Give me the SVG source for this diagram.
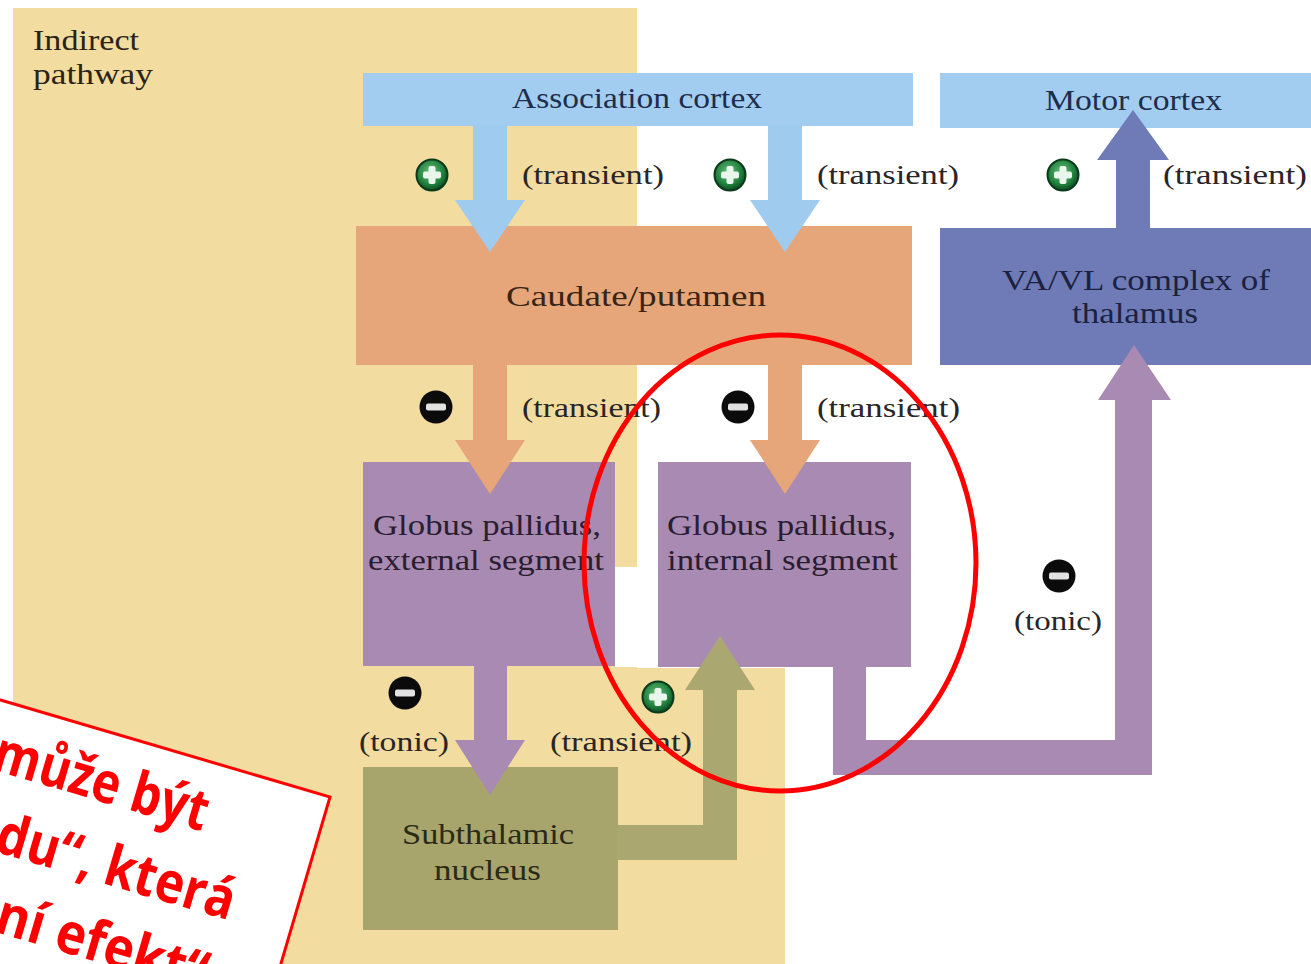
<svg xmlns="http://www.w3.org/2000/svg" width="1311" height="964" viewBox="0 0 1311 964">
<defs>
<style>
.lbl{font-family:"Liberation Serif","Times New Roman",serif;font-size:28px;fill:#2a2526}
.nm{font-family:"Liberation Serif","Times New Roman",serif;font-size:29px}
.cz{font-family:"Open Sans","Noto Sans",sans-serif;font-weight:bold;font-size:57px;fill:#ff0000}
</style>
<radialGradient id="gg" cx="0.45" cy="0.4" r="0.6">
<stop offset="0" stop-color="#6cc07e"/>
<stop offset="0.7" stop-color="#1f7f3c"/>
<stop offset="1" stop-color="#0d4a22"/>
</radialGradient>
<g id="plus">
<circle r="15.5" fill="url(#gg)" stroke="#0b3a1b" stroke-width="2"/>
<rect x="-3.5" y="-9" width="7" height="18" rx="2" fill="#e9f6ec"/>
<rect x="-9" y="-3.5" width="18" height="7" rx="2" fill="#e9f6ec"/>
</g>
<g id="minus">
<circle r="16.5" fill="#0b0b0b"/>
<rect x="-10" y="-3.5" width="20" height="7" rx="2" fill="#e2e2e2"/>
</g>
</defs>
<rect width="1311" height="964" fill="#ffffff"/>
<g id="background">
<rect x="13" y="8" width="624" height="956" fill="#f2dc9f"/>
<rect x="630" y="668" width="155" height="296" fill="#f2dc9f"/>
<rect x="615" y="567" width="43" height="100" fill="#ffffff"/>
</g>
<g id="association-cortex">
<rect x="363" y="73" width="550" height="53" fill="#a2cdf0"/>
<text class="nm" x="512" y="108" textLength="250" lengthAdjust="spacingAndGlyphs" fill="#1e2d4c">Association cortex</text>
</g>
<g id="motor-cortex">
<rect x="940" y="73" width="371" height="55" fill="#a2cdf0"/>
</g>
<g id="caudate-putamen">
<rect x="356" y="226" width="556" height="139" fill="#e6a679"/>
<text class="nm" x="506" y="306" textLength="260" lengthAdjust="spacingAndGlyphs" fill="#3a2416">Caudate/putamen</text>
</g>
<g id="thalamus">
<rect x="940" y="228" width="371" height="137" fill="#6e7bb6"/>
<text class="nm" x="1002" y="290" textLength="268" lengthAdjust="spacingAndGlyphs" fill="#1c2140">VA/VL complex of</text>
<text class="nm" x="1072" y="323" textLength="126" lengthAdjust="spacingAndGlyphs" fill="#1c2140">thalamus</text>
</g>
<g id="gpe">
<rect x="363" y="462" width="252" height="204" fill="#a98ab2"/>
<text class="nm" x="373" y="535" textLength="228" lengthAdjust="spacingAndGlyphs" fill="#2a1d30">Globus pallidus,</text>
<text class="nm" x="368" y="570" textLength="236" lengthAdjust="spacingAndGlyphs" fill="#2a1d30">external segment</text>
</g>
<g id="gpi">
<rect x="658" y="462" width="253" height="205" fill="#a98ab2"/>
<text class="nm" x="667" y="535" textLength="229" lengthAdjust="spacingAndGlyphs" fill="#2a1d30">Globus pallidus,</text>
<text class="nm" x="667" y="570" textLength="231" lengthAdjust="spacingAndGlyphs" fill="#2a1d30">internal segment</text>
</g>
<g id="stn">
<rect x="363" y="767" width="255" height="163" fill="#a7a56c"/>
<text class="nm" x="402" y="844" textLength="172" lengthAdjust="spacingAndGlyphs" fill="#2b2a18">Subthalamic</text>
<text class="nm" x="434" y="880" textLength="107" lengthAdjust="spacingAndGlyphs" fill="#2b2a18">nucleus</text>
</g>
<g id="connectors">
<polygon points="473,125 507,125 507,200 525,200 490,252 455,200 473,200" fill="#9fcbef"/>
<polygon points="768,125 802,125 802,200 820,200 785,252 750,200 768,200" fill="#9fcbef"/>
<polygon points="473,364 507,364 507,440 525,440 490,494 455,440 473,440" fill="#e6a679"/>
<polygon points="768,364 802,364 802,440 820,440 785,494 750,440 768,440" fill="#e6a679"/>
<polygon points="474,665 507,665 507,740 525,740 490,795 455,740 474,740" fill="#a98ab2"/>
<polygon points="617,825 703,825 703,690 685,690 720,636 755,690 737,690 737,860 617,860" fill="#aaa870"/>
<polygon points="833,666 866,666 866,740 1115,740 1115,400 1098,400 1134,345 1171,400 1152,400 1152,775 833,775" fill="#a98ab2"/>
<polygon points="1116,228 1116,160 1097,160 1133,110 1169,160 1150,160 1150,228" fill="#6e7bb6"/>
</g>
<g id="labels">
<text class="nm" x="33" y="50" textLength="106" lengthAdjust="spacingAndGlyphs" fill="#2a2418">Indirect</text>
<text class="nm" x="33" y="84" textLength="120" lengthAdjust="spacingAndGlyphs" fill="#2a2418">pathway</text>
<text class="nm" x="1045" y="110" textLength="177" lengthAdjust="spacingAndGlyphs" fill="#1e2d4c">Motor cortex</text>
<text class="lbl" x="522" y="184" textLength="142" lengthAdjust="spacingAndGlyphs">(transient)</text>
<text class="lbl" x="817" y="184" textLength="142" lengthAdjust="spacingAndGlyphs">(transient)</text>
<text class="lbl" x="1163" y="184" textLength="144" lengthAdjust="spacingAndGlyphs">(transient)</text>
<text class="lbl" x="522" y="417" textLength="139" lengthAdjust="spacingAndGlyphs">(transient)</text>
<text class="lbl" x="817" y="417" textLength="143" lengthAdjust="spacingAndGlyphs">(transient)</text>
<text class="lbl" x="550" y="751" textLength="142" lengthAdjust="spacingAndGlyphs">(transient)</text>
<text class="lbl" x="359" y="751" textLength="90" lengthAdjust="spacingAndGlyphs">(tonic)</text>
<text class="lbl" x="1014" y="630" textLength="88" lengthAdjust="spacingAndGlyphs">(tonic)</text>
</g>
<g id="signs">
<use href="#plus" x="432" y="175"/>
<use href="#plus" x="730" y="175"/>
<use href="#plus" x="1063" y="175"/>
<use href="#plus" x="658" y="697"/>
<use href="#minus" x="436" y="407"/>
<use href="#minus" x="738" y="407"/>
<use href="#minus" x="405" y="693"/>
<use href="#minus" x="1059" y="576"/>
</g>
<g id="highlight">
<ellipse cx="780" cy="563" rx="196" ry="228" fill="none" stroke="#ff0000" stroke-width="5"/>
</g>
<g id="note" transform="translate(330,797) rotate(16.4)">
<rect x="-700" y="0" width="700" height="400" fill="#ffffff" stroke="#ff0000" stroke-width="3"/>
<text class="cz" x="-113" y="69" text-anchor="end" textLength="221" lengthAdjust="spacingAndGlyphs">může být</text>
<text class="cz" x="-62" y="147" text-anchor="end" textLength="246" lengthAdjust="spacingAndGlyphs">du“, která</text>
<text class="cz" x="-68" y="224" text-anchor="end" textLength="218" lengthAdjust="spacingAndGlyphs">ní efekt“</text>
</g>
</svg>
